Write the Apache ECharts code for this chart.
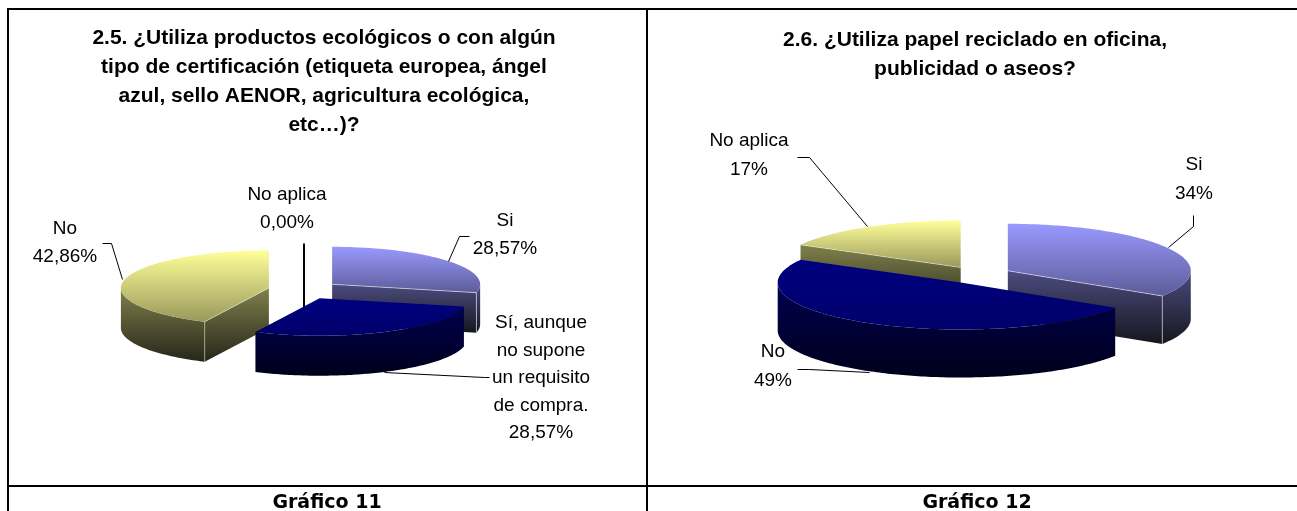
<!DOCTYPE html>
<html>
<head>
<meta charset="utf-8">
<style>html,body{margin:0;padding:0;background:#fff}#main{width:1297px;height:511px}</style>
<script src="https://cdn.jsdelivr.net/npm/echarts@6/dist/echarts.min.js"></script>
</head>
<body>
<div id="main"></div>
<script>
// datos
var names11 = ['Si','Sí, aunque\nno supone\nun requisito\nde compra.','No','No aplica'];
var values11 = [28.57,28.57,42.86,0];
var names12 = ['Si','No','No aplica'];
var values12 = [34,49,17];
var title11 = '2.5. ¿Utiliza productos ecológicos o con algún\ntipo de certificación (etiqueta europea, ángel\nazul, sello AENOR, agricultura ecológica,\netc…)?';
var title12 = '2.6. ¿Utiliza papel reciclado en oficina,\npublicidad o aseos?';
var caption11 = 'Gráfico 11';
var caption12 = 'Gráfico 12';

var BLUE = {top:['#9999ff','#5c5c99'],wall:['#4c4c80','#16161f'],edge:'rgba(255,255,255,0.5)'};
var NAVY = {top:['#000080','#00006a'],wall:['#000050','#00001c'],edge:null};
var YELLOW = {top:['#ffff99','#99995c'],wall:['#80804c','#26261a'],edge:'rgba(255,255,255,0.4)'};

// geometria de cada tarta
var pie11 = {
	cx:304,cy:290,rx:148,ry:37.5,depth:40,explode:36,digits:2,lineH:27.5,
	names:names11,values:values11,styles:[BLUE,NAVY,YELLOW,null],draw:[0,3,2,1],
	labels:[[505,221],[541,323],[65,229],[287,195]],
	leaders:[
		[[448,261],[459,236],[469,236]],
		[[384,372],[484,377],[489,377]],
		[[122,279],[111,243],[102,243]],
		null
	]
};
var pie12 = {
	cx:978,cy:275,rx:183,ry:47,depth:48,explode:34,digits:0,lineH:29,
	names:names12,values:values12,styles:[BLUE,NAVY,YELLOW],draw:[0,2,1],
	labels:[[1194,165],[773,352],[749,141]],
	leaders:[
		[[1168,247],[1193,226],[1193,215]],
		[[869,372],[809,369],[797,369]],
		[[867,226],[809,157],[797,157]]
	]
};

var LABEL_FONT = '19px "Liberation Sans"';

function grad(c){
	return new echarts.graphic.LinearGradient(0,0,0,1,[{offset:0,color:c[0]},{offset:1,color:c[1]}]);
}

function pieRender(pie){
	var sum = 0, starts = [];
	for(var i=0;i<pie.values.length;i++){
		starts.push(sum/100*360);
		sum += pie.values[i];
	}
	return function(params,api){
		var i = params.dataIndex;
		var v = api.value(0);
		var a0 = starts[i], a1 = a0+v/sum*360;
		if(v==0){a0 = 360;a1 = 360;}
		var mid = (a0+a1)/2*Math.PI/180;
		var ax = pie.cx+Math.sin(mid)*pie.explode;
		var ay = pie.cy-Math.cos(mid)*pie.explode*pie.ry/pie.rx;
		function pt(deg,d){
			var r = deg*Math.PI/180;
			return [ax+Math.sin(r)*pie.rx,ay-Math.cos(r)*pie.ry+(d||0)];
		}
		function arc(from,to,d){
			var pts = [];
			for(var a=from;a<to;a+=1){pts.push(pt(a,d));}
			pts.push(pt(to,d));
			return pts;
		}
		var z = pie.draw.indexOf(i)*10+1;
		var kids = [];
		var st = pie.styles[i];
		if(st){
			// cara de corte visible
			var cut = null;
			if(Math.sin(a1*Math.PI/180)>0.01){cut = a1;}
			else if(Math.sin(a0*Math.PI/180)<-0.01){cut = a0;}
			if(cut!==null){
				var p = pt(cut);
				kids.push({type:'polygon',z2:z,shape:{points:[[ax,ay],p,[p[0],p[1]+pie.depth],[ax,ay+pie.depth]]},style:{fill:grad(st.wall)}});
			}
			// pared exterior, solo la mitad delantera
			var w0 = Math.max(a0,90), w1 = Math.min(a1,270);
			if(w1>w0){
				var top = arc(w0,w1,0), bottom = arc(w0,w1,pie.depth).reverse();
				kids.push({type:'polygon',z2:z+1,shape:{points:top.concat(bottom)},style:{fill:grad(st.wall)}});
			}
			// cara superior
			kids.push({type:'polygon',z2:z+2,shape:{points:[[ax,ay]].concat(arc(a0,a1,0))},style:{fill:grad(st.top)}});
			if(st.edge && cut!==null){
				var q = pt(cut);
				kids.push({type:'polyline',z2:z+3,shape:{points:[[ax,ay],q,[q[0],q[1]+pie.depth]]},style:{fill:null,stroke:st.edge,lineWidth:1}});
			}
		}else{
			// porcion de valor cero: queda como una linea
			var r0 = pt(0);
			kids.push({type:'line',z2:z,shape:{x1:r0[0],y1:r0[1],x2:r0[0],y2:ay+pie.depth},style:{stroke:'#000',lineWidth:2}});
		}
		if(pie.leaders[i]){
			var crisp = pie.leaders[i].map(function(c){return [c[0]+0.5,c[1]+0.5];});
			kids.push({type:'polyline',z2:100,shape:{points:crisp},style:{fill:null,stroke:'#000',lineWidth:1}});
		}
		var pct = v.toFixed(pie.digits).replace('.',',')+'%';
		kids.push({type:'text',z2:101,x:pie.labels[i][0],y:pie.labels[i][1]-pie.lineH/2,style:{
			text:pie.names[i]+'\n'+pct,font:LABEL_FONT,fill:'#000',align:'center',verticalAlign:'top',lineHeight:pie.lineH
		}});
		return {type:'group',children:kids};
	};
}

function pieSeries(pie){
	return {
		type:'custom',
		coordinateSystem:'none',
		renderItem:pieRender(pie),
		silent:true,
		data:pie.values.map(function(v,i){return [v,i];})
	};
}

function border(x1,y1,x2,y2){
	return {type:'line',shape:{x1:x1,y1:y1,x2:x2,y2:y2},style:{stroke:'#000',lineWidth:2}};
}

var titleStyle = {fontFamily:'Liberation Sans',fontSize:21,fontWeight:'bold',color:'#000',lineHeight:29,align:'center'};
var captionStyle = {fontFamily:'DejaVu Sans',fontSize:19,fontWeight:'bold',color:'#000'};

var option = {
	backgroundColor:'#fff',
	animation:false,
	title:[
		{text:title11,left:324,top:24,textAlign:'center',padding:0,textStyle:titleStyle},
		{text:title12,left:975,top:26,textAlign:'center',padding:0,textStyle:titleStyle},
		{text:caption11,left:327,top:494,textAlign:'center',padding:0,textStyle:captionStyle},
		{text:caption12,left:977,top:494,textAlign:'center',padding:0,textStyle:captionStyle}
	],
	graphic:[
		border(7,9,1297,9),
		border(8,8,8,511),
		border(647,8,647,511),
		border(8,486,1297,486)
	],
	series:[pieSeries(pie11),pieSeries(pie12)]
};

var chart = echarts.init(document.getElementById('main'),null,{renderer:'canvas'});
chart.setOption(option);
</script>
</body>
</html>
